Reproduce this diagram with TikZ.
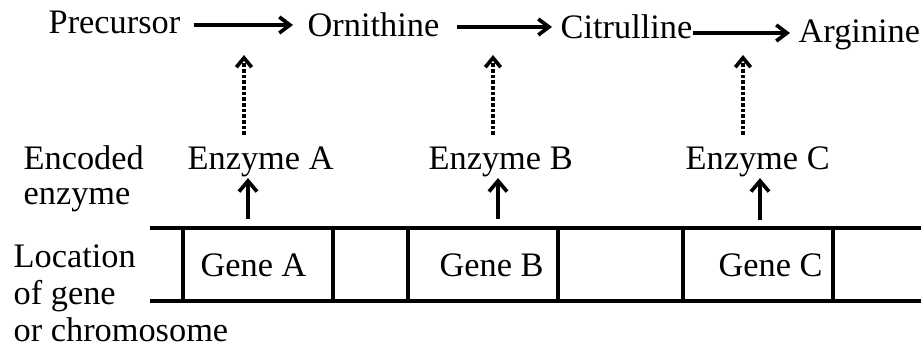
\documentclass[tikz,border=0pt]{standalone}
\usepackage{fontspec}
\setmainfont{Liberation Serif}
\usetikzlibrary{arrows.meta}

\tikzset{
  lbl/.style={inner sep=0pt, anchor=base west, font=\fontsize{10.3}{12}\selectfont},
  flow/.style={line width=1pt, -{Straight Barb[length=3.2pt,width=4.8pt,line width=1.1pt]}},
  upflow/.style={line width=1pt, -{Straight Barb[length=3.2pt,width=5.4pt,line width=1.1pt]}},
  dashflow/.style={line width=1pt, dash pattern=on 1.1pt off 0.6pt,
    -{Straight Barb[length=2.8pt,width=4.6pt,line width=1.1pt]}},
  chromo/.style={line width=1.05pt},
  divider/.style={line width=0.95pt}
}

\begin{document}
\begin{tikzpicture}[x=0.3pt, y=-0.3pt]
\useasboundingbox (0,0) rectangle (921,347);

% pathway
\node[lbl] (pre) at (48,34) {Precursor};
\node[lbl] (orn) at (307,37) {Ornithine};
\node[lbl] (cit) at (560,39) {Citrulline};
\node[lbl] (arg) at (798,43) {Arginine};

\draw[flow] ([shift={(13,-9)}]pre.base east) -- ([shift={(-14,-12)}]orn.base west);
\draw[flow] ([shift={(17,-10)}]orn.base east) -- ([shift={(-8,-12)}]cit.base west);
\draw[flow] ([shift={(0,-6)}]cit.base east) -- ([shift={(-8,-10)}]arg.base west);

% enzymes
\node[lbl] (enc1) at (23,170) {Encoded};
\node[lbl] (enc2) at (23,205) {enzyme};
\node[lbl] (enzA) at (187,170) {Enzyme A};
\node[lbl] (enzB) at (428,170) {Enzyme B};
\node[lbl] (enzC) at (685,170) {Enzyme C};

% enzymes act on the reactions
\coordinate (dA) at (244,135); \coordinate (rA) at (244,55);
\coordinate (dB) at (493,135); \coordinate (rB) at (493,55);
\coordinate (dC) at (743,135); \coordinate (rC) at (743,55);
\draw[dashflow] (dA) -- (rA);
\draw[dashflow] (dB) -- (rB);
\draw[dashflow] (dC) -- (rC);

% chromosome
\draw[chromo] (150,228) -- (921,228);
\draw[chromo] (150,301) -- (921,301);
\foreach \x in {183,333,408,558,683,833}
  \draw[divider] (\x,228) -- (\x,301);

\node[lbl] (gA) at (200,277) {Gene A};
\node[lbl] (gB) at (439,277) {Gene B};
\node[lbl] (gC) at (718,277) {Gene C};

% genes encode enzymes
\coordinate (sA) at (248,219);
\coordinate (sB) at (498,219);
\coordinate (sC) at (760,220);
\draw[upflow] (sA) -- (sA |- enzA.south);
\draw[upflow] (sB) -- (sB |- enzB.south);
\draw[upflow] (sC) -- (sC |- enzC.south);

% row labels
\node[lbl] (loc1) at (13,268) {Location};
\node[lbl] (loc2) at (13,305) {of gene};
\node[lbl] (loc3) at (13,342) {or chromosome};
\end{tikzpicture}
\end{document}
